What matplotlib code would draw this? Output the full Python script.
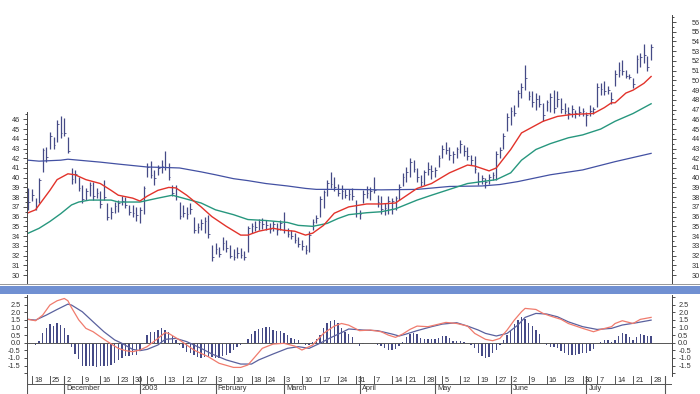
import matplotlib
matplotlib.use("Agg")
import matplotlib.pyplot as plt
from matplotlib.patches import Rectangle
import numpy as np
import pandas as pd

plt.rcParams['font.family'] = ['Liberation Sans', 'DejaVu Sans']

# trading days (market holidays removed)
holidays = ['2002-11-28', '2002-12-25', '2003-01-01', '2003-01-20',
            '2003-02-17', '2003-04-18', '2003-05-26', '2003-07-04']
days = pd.bdate_range('2002-11-15', '2003-08-01')
days = days[~days.isin(pd.to_datetime(holidays))]

# daily bars, one row per week
highs = [38.9,
         38.8, 37.9, 40.0, 43.1, 43.2,
         44.7, 44.2, 45.9, 46.3,
         46.1, 44.2, 41.0, 40.8, 40.1,
         39.3, 38.9, 39.6, 39.6, 38.9,
         38.6, 39.8, 37.4, 37.0, 37.5,
         37.7, 38.1, 38.0, 37.2,
         37.2, 37.0, 37.0, 39.1,
         41.5, 41.7, 40.8, 41.3, 41.8,
         42.7, 41.5, 39.3, 39.2, 37.5,
         37.2, 37.0, 37.4, 36.0,
         35.3, 35.8, 36.0, 36.2, 33.1,
         33.3, 32.9, 33.9, 33.6, 33.1,
         32.7, 32.9, 32.8, 32.5, 35.0,
         35.3, 35.5, 35.8, 35.9,
         35.7, 35.3, 35.5, 35.3, 35.7,
         36.5, 34.8, 34.6, 34.3, 33.9,
         33.6, 33.1, 34.5, 35.8, 36.2,
         38.1, 38.7, 39.8, 40.6, 40.1,
         39.4, 39.2, 38.8, 38.8, 38.9,
         37.7, 36.7, 38.7, 39.1, 39.0,
         40.1, 38.2, 38.1, 37.4, 38.1,
         37.9, 38.1, 39.4, 40.5,
         41.1, 42.0, 41.8, 41.0, 40.3,
         40.8, 41.6, 41.3, 41.1, 42.3,
         43.4, 43.7, 43.2, 42.7, 43.2,
         43.9, 43.4, 43.2, 42.3, 42.2,
         40.6, 40.3, 40.0, 40.4, 40.6,
         42.7, 43.2, 44.6, 46.6,
         47.3, 47.5, 49.0, 49.7, 51.6,
         48.9, 48.9, 48.7, 48.5, 47.7,
         48.0, 48.7, 49.0, 48.9, 48.2,
         47.7, 47.3, 47.5, 47.0, 47.4,
         47.2, 46.8, 47.5, 47.3,
         49.7, 49.7, 49.9, 49.4, 48.8,
         51.1, 51.9, 52.1, 51.1, 50.7,
         50.2, 52.6, 52.8, 53.7, 52.5,
         53.7]
lows = [36.7,
        37.6, 36.7, 37.4, 40.6, 41.6,
        42.9, 42.9, 43.7, 44.1,
        44.3, 42.5, 39.4, 39.5, 38.6,
        37.4, 37.7, 38.1, 37.7, 37.9,
        36.9, 37.7, 35.7, 35.8, 36.4,
        36.5, 37.2, 36.9, 36.2,
        36.0, 35.5, 35.3, 36.3,
        40.1, 40.0, 39.3, 40.3, 40.5,
        40.8, 39.8, 38.1, 37.7, 35.8,
        36.0, 35.8, 36.3, 34.3,
        34.3, 34.6, 34.3, 33.8, 31.4,
        32.2, 31.9, 32.6, 32.4, 31.7,
        31.5, 31.7, 31.7, 31.5, 32.4,
        34.3, 34.5, 34.6, 34.7,
        34.6, 34.3, 34.5, 34.1, 34.6,
        34.3, 33.9, 33.7, 33.3, 32.9,
        32.6, 32.2, 32.4, 34.6, 35.3,
        36.0, 36.9, 38.1, 38.9, 38.6,
        38.1, 37.8, 37.9, 37.7, 37.7,
        36.0, 35.8, 37.4, 37.9, 37.7,
        38.4, 37.0, 36.3, 36.2, 36.3,
        36.3, 36.7, 37.7, 39.1,
        39.6, 40.1, 40.6, 39.6, 39.1,
        39.3, 40.3, 39.9, 40.1, 41.1,
        42.0, 42.4, 41.8, 41.5, 42.0,
        42.5, 42.2, 41.8, 41.3, 40.5,
        39.3, 39.4, 38.9, 39.4, 39.8,
        39.8, 42.0, 42.9, 44.8,
        45.4, 46.3, 47.3, 48.2, 49.0,
        48.0, 47.3, 47.0, 47.3, 45.8,
        46.9, 46.8, 46.7, 47.3, 46.6,
        46.5, 46.0, 46.2, 46.1, 46.3,
        46.3, 45.3, 46.3, 46.5,
        47.3, 48.5, 48.5, 48.6, 47.6,
        49.4, 50.4, 50.6, 50.2, 50.1,
        49.2, 50.8, 51.4, 51.8, 51.0,
        52.1]
closes = [37.5,
          38.2, 37.0, 39.8, 42.8, 42.1,
          44.3, 43.4, 45.5, 44.6,
          44.6, 42.7, 39.9, 40.4, 38.9,
          37.8, 38.6, 39.3, 38.1, 38.4,
          37.3, 38.0, 36.0, 36.5, 37.1,
          37.4, 37.6, 37.2, 36.5,
          36.4, 36.2, 36.7, 38.9,
          41.1, 40.3, 40.0, 41.0, 41.2,
          41.1, 40.1, 38.4, 38.1, 36.1,
          36.4, 36.3, 36.8, 34.6,
          34.9, 35.3, 35.6, 34.2, 31.9,
          32.7, 32.2, 33.3, 32.8, 32.0,
          31.9, 32.3, 32.1, 31.9, 34.8,
          35.0, 34.9, 35.4, 35.2,
          35.1, 34.7, 35.2, 34.6, 35.3,
          34.6, 34.2, 34.0, 33.6, 33.2,
          33.0, 32.6, 34.1, 35.4, 35.9,
          37.8, 38.5, 39.5, 39.4, 39.0,
          38.4, 38.6, 38.2, 38.3, 38.1,
          36.4, 36.3, 38.3, 38.4, 38.6,
          38.7, 37.5, 36.8, 36.9, 37.6,
          37.6, 37.9, 39.0, 40.1,
          40.6, 41.6, 40.9, 40.1, 39.6,
          40.6, 40.9, 40.7, 40.8, 42.0,
          43.0, 42.8, 42.3, 42.4, 42.9,
          43.5, 42.7, 42.2, 41.8, 40.9,
          39.7, 40.0, 39.6, 40.1, 40.3,
          42.4, 42.8, 44.3, 46.2,
          46.9, 46.6, 48.7, 49.3, 50.2,
          48.4, 47.8, 48.1, 47.6, 46.4,
          47.8, 48.3, 47.2, 48.1, 47.1,
          46.9, 46.6, 47.1, 46.6, 46.8,
          46.9, 46.4, 46.9, 47.1,
          49.3, 49.1, 48.9, 49.0, 48.1,
          50.7, 51.1, 51.0, 50.5, 50.4,
          49.6, 52.2, 52.4, 52.6, 51.4,
          53.4]

# moving averages (bar index, value)
ma_fast_idx = [0, 2, 4, 6, 8, 11, 13, 16, 20, 23, 25, 29, 31, 33, 36, 39, 41, 44, 48, 51,
               55, 59, 61, 64, 68, 71, 74, 77, 79, 82, 85, 89, 94, 98, 102, 108, 112, 117,
               122, 124, 128, 130, 134, 137, 141, 143, 147, 151, 157, 160, 162, 163, 166,
               168, 171, 173]
ma_fast = [36.4, 36.7, 37.7, 38.7, 39.8, 40.4, 40.3, 39.8, 39.4, 38.7, 38.2, 37.9, 37.6,
           38.1, 38.7, 39.0, 38.95, 38.2, 37.0, 36.0, 35.0, 34.1, 34.1, 34.5, 34.8, 34.6,
           34.5, 34.1, 34.3, 35.1, 36.35, 37.0, 37.3, 37.3, 37.4, 38.9, 39.4, 40.5, 41.3,
           41.2, 40.7, 41.0, 42.9, 44.6, 45.4, 45.8, 46.3, 46.5, 46.6, 47.2, 47.7, 47.7,
           48.7, 49.0, 49.7, 50.4]
ma_mid_idx = [0, 3, 6, 9, 12, 14, 17, 23, 25, 31, 36, 40, 42, 48, 52, 57, 61, 66, 72, 75,
              79, 83, 86, 89, 94, 98, 102, 108, 112, 117, 122, 126, 130, 134, 137, 141,
              145, 150, 154, 159, 163, 168, 173]
ma_mid = [34.3, 34.8, 35.5, 36.3, 37.2, 37.5, 37.7, 37.7, 37.5, 37.5, 37.9, 38.2, 38.0,
          37.4, 36.7, 36.2, 35.7, 35.6, 35.4, 35.1, 35.0, 35.3, 35.8, 36.2, 36.4, 36.5,
          36.8, 37.7, 38.2, 38.8, 39.4, 39.6, 39.8, 40.5, 41.8, 42.9, 43.5, 44.1, 44.4,
          45.0, 45.8, 46.6, 47.6]
ma_slow_idx = [0, 3, 9, 11, 14, 20, 25, 33, 38, 42, 48, 52, 57, 61, 66, 72, 77, 80, 85, 89,
               98, 108, 117, 126, 131, 136, 145, 154, 163, 173]
ma_slow = [41.8, 41.7, 41.8, 41.9, 41.8, 41.6, 41.4, 41.1, 41.05, 41.0, 40.6, 40.3, 39.9,
           39.7, 39.4, 39.15, 38.9, 38.8, 38.8, 38.8, 38.75, 38.8, 39.1, 39.15, 39.3, 39.6,
           40.3, 40.8, 41.65, 42.5]

# MACD panel
hist = [0.0, 0.0, -0.15, 0.1, 0.66, 0.94, 1.22, 1.1, 1.3, 1.15,
        0.94, 0.5, -0.3, -0.75, -1.1, -1.55, -1.55, -1.55, -1.55, -1.62,
        -1.55, -1.5, -1.52, -1.45, -1.3, -1.13, -1.0, -0.9, -0.85, -0.8,
        -0.8, -0.5, 0.0, 0.5, 0.72, 0.72, 0.83, 0.94, 0.85, 0.72,
        0.45, 0.2, -0.15, -0.37, -0.59, -0.7, -0.81, -0.96, -0.98, -0.92,
        -0.96, -0.96, -1.03, -1.03, -0.88, -0.8, -0.65, -0.5, -0.3, -0.15,
        -0.05, 0.25, 0.55, 0.75, 0.87, 0.94, 1.04, 1.0, 0.85, 0.77,
        0.75, 0.66, 0.5, 0.33, 0.25, 0.18, -0.04, -0.15, -0.12, 0.05,
        0.23, 0.5, 0.94, 1.3, 1.44, 1.52, 1.26, 0.94, 0.72, 0.55,
        0.35, 0.0, -0.2, -0.1, -0.05, -0.03, -0.05, -0.15, -0.2, -0.35,
        -0.45, -0.45, -0.4, -0.2, 0.05, 0.39, 0.6, 0.66, 0.55, 0.28,
        0.24, 0.26, 0.26, 0.24, 0.33, 0.44, 0.44, 0.28, 0.09, 0.12,
        0.12, 0.07, -0.05, -0.15, -0.37, -0.7, -0.9, -0.98, -0.92, -0.7,
        -0.5, -0.15, 0.2, 0.5, 0.8, 1.2, 1.5, 1.66, 1.55, 1.3,
        1.1, 0.85, 0.55, 0.0, -0.15, -0.26, -0.3, -0.37, -0.52, -0.66,
        -0.81, -0.81, -0.81, -0.75, -0.7, -0.66, -0.52, -0.44, 0.0, 0.06,
        0.15, 0.15, 0.05, 0.2, 0.44, 0.66, 0.55, 0.39, 0.2, 0.39,
        0.55, 0.5, 0.44, 0.44]
macd_idx = [0, 2, 4, 6, 8, 10, 11, 12, 14, 16, 18, 20, 22, 25, 27, 29, 31, 33, 36, 38, 39,
            42, 46, 50, 53, 57, 59, 61, 63, 65, 68, 71, 74, 76, 79, 82, 85, 87, 89, 92, 95,
            98, 100, 102, 104, 106, 108, 111, 113, 116, 119, 122, 124, 127, 129, 131, 133,
            135, 137, 138, 141, 143, 145, 148, 150, 154, 157, 159, 162, 163, 165, 168, 170,
            173]
macd = [1.53, 1.44, 1.81, 2.47, 2.75, 2.9, 2.75, 2.3, 1.5, 0.94, 0.72, 0.39, 0.07, -0.37,
        -0.52, -0.59, -0.48, -0.26, 0.28, 0.66, 0.61, 0.18, -0.48, -0.92, -1.35, -1.62,
        -1.62, -1.46, -0.92, -0.37, -0.09, -0.04, -0.22, -0.48, -0.15, 0.61, 1.09, 1.26,
        1.15, 0.79, 0.83, 0.72, 0.5, 0.35, 0.57, 0.87, 1.09, 1.05, 1.16, 1.33, 1.26, 1.09,
        0.61, 0.22, 0.13, 0.28, 0.83, 1.48, 2.03, 2.25, 2.18, 1.92, 1.75, 1.53, 1.26, 0.94,
        0.72, 0.87, 1.05, 1.26, 1.44, 1.26, 1.53, 1.66]
signal_idx = [0, 2, 5, 8, 11, 12, 15, 18, 21, 24, 26, 29, 31, 33, 36, 38, 41, 44, 48, 51,
              55, 59, 62, 64, 68, 72, 75, 78, 81, 84, 87, 89, 93, 97, 101, 103, 105, 108,
              112, 115, 119, 122, 125, 127, 130, 133, 136, 138, 141, 144, 147, 150, 154,
              158, 162, 165, 169, 173]
signal = [1.53, 1.48, 1.81, 2.18, 2.53, 2.47, 2.03, 1.37, 0.72, 0.18, -0.04, -0.44, -0.52,
          -0.44, -0.15, 0.22, 0.28, 0.07, -0.37, -0.74, -1.13, -1.4, -1.4, -1.13, -0.74,
          -0.37, -0.26, -0.37, -0.04, 0.33, 0.66, 0.9, 0.83, 0.79, 0.57, 0.44, 0.57, 0.79,
          1.05, 1.22, 1.31, 1.09, 0.83, 0.61, 0.44, 0.61, 1.16, 1.66, 1.92, 1.88, 1.7, 1.37,
          1.05, 0.87, 0.94, 1.16, 1.31, 1.48]

W, H = 700, 394
X0, X1 = 27, 672          # pixel extent of the plot area
BAR0, STEP = 28.3, 3.6    # pixel of first bar, pixels per bar


def px(l, t, r, b):
    return [l / W, 1 - b / H, (r - l) / W, (b - t) / H]


xlim = ((X0 - BAR0) / STEP, (X1 - BAR0) / STEP)
bar_col = '#454a86'
fs = 5.3

fig = plt.figure(figsize=(7.0, 3.94), dpi=100)
fig.patch.set_facecolor('white')

# ---- price panel
ax = fig.add_axes(px(X0, 15, X1, 283))
n = len(highs)
x = np.arange(n)
ax.vlines(x, lows, highs, color=bar_col, lw=0.9)
ax.hlines(closes, x, x + 0.45, color=bar_col, lw=0.6)
ax.plot(ma_slow_idx, ma_slow, color='#4351a3', lw=0.9)
ax.plot(ma_mid_idx, ma_mid, color='#27977e', lw=1.0)
ax.plot(ma_fast_idx, ma_fast, color='#e2332b', lw=1.0)
ax.set_xlim(*xlim)
ax.set_ylim(30 - 8 / 9.73, 30 + 260 / 9.73)
for s in ['top', 'bottom']:
    ax.spines[s].set_visible(False)
ax.spines['left'].set_bounds(30 - 8 / 9.73, 46.8)
ax.spines['right'].set_visible(False)
ax.set_xticks([])
ax.set_yticks(range(30, 47))
ax.set_yticks(np.arange(30.5, 46.6, 1), minor=True)
ax.tick_params(axis='y', labelsize=fs, length=3, width=0.6, pad=2, colors='#333333')
ax.tick_params(axis='y', which='minor', length=1.5, width=0.5)
for s in ax.spines.values():
    s.set_linewidth(0.7)
    s.set_color('#444444')

axr = ax.twinx()
axr.set_ylim(ax.get_ylim())
axr.set_yticks(range(30, 57))
axr.set_yticks(np.arange(30.5, 56.6, 1), minor=True)
for s in ['top', 'bottom', 'left']:
    axr.spines[s].set_visible(False)
axr.spines['right'].set_linewidth(0.7)
axr.spines['right'].set_color('#444444')
axr.tick_params(axis='y', labelsize=fs, length=3, width=0.6, pad=11, colors='#333333')
axr.tick_params(axis='y', which='minor', length=1.5, width=0.5)

# separator band
fig.add_artist(Rectangle((0, 1 - 285 / H), 1, 1.2 / H, transform=fig.transFigure,
                         color='#9a9a9a', lw=0))
fig.add_artist(Rectangle((0, 1 - 294 / H), 1, 8 / H, transform=fig.transFigure,
                         color='#7090d2', lw=0))

# ---- MACD panel
am = fig.add_axes(px(X0, 295, X1, 376))
am.bar(x, hist, width=0.42, color=bar_col, lw=0)
am.axhline(0, color='#555555', lw=0.7)
am.plot(signal_idx, signal, color='#5a619e', lw=0.9)
am.plot(macd_idx, macd, color='#f07b6d', lw=0.9)
am.set_xlim(*xlim)
am.set_ylim((342.7 - 376) / 15.25, (342.7 - 295) / 15.25)
am.set_xticks([])
am.set_yticks(np.arange(-2, 3.01, 0.5))
am.set_yticklabels(['' if (v < -1.6 or v > 2.6) else f'{v:.1f}'
                    for v in np.arange(-2, 3.01, 0.5)])
am.tick_params(axis='y', labelsize=fs, length=2.5, width=0.6, pad=2, colors='#333333',
               right=True, labelright=True)
for s in ['top', 'bottom']:
    am.spines[s].set_visible(False)
for s in ['left', 'right']:
    am.spines[s].set_linewidth(0.7)
    am.spines[s].set_color('#444444')

# ---- date axis
ad = fig.add_axes(px(X0, 376, X1, 394))
ad.set_xlim(*xlim)
ad.set_ylim(0, 1)
ad.axis('off')
row = (394 - 384) / 18
ad.axhline(row, color='#555555', lw=0.7)
ad.axvline(xlim[0], color='#555555', lw=0.8)

pos = pd.Series(np.arange(len(days)), index=days)
data_days = days[:n]
wk = pd.Series(np.arange(n), index=data_days)
wk = wk[wk.index >= '2002-11-18']
week_first = wk.groupby([wk.index.isocalendar().year, wk.index.isocalendar().week]).first()
for i in week_first.values:
    ad.plot([i, i], [row, 1], color='#555555', lw=0.7)
    ad.text(i + 0.6, (row + 1) / 2, str(days[i].day), fontsize=fs, va='center',
            ha='left', color='#333333')

month_first = pos.groupby([pos.index.year, pos.index.month]).first().values[1:]
for i in month_first:
    ad.plot([i, i], [0.05, 1], color='#555555', lw=0.8)
    if i < n:
        d = days[i]
        lab = '2003' if d.month == 1 else d.strftime('%B')
        ad.text(i + 0.6, row / 2 + 0.02, lab, fontsize=fs, va='center', ha='left',
                color='#333333')

fig.savefig('out.png', dpi=100)
